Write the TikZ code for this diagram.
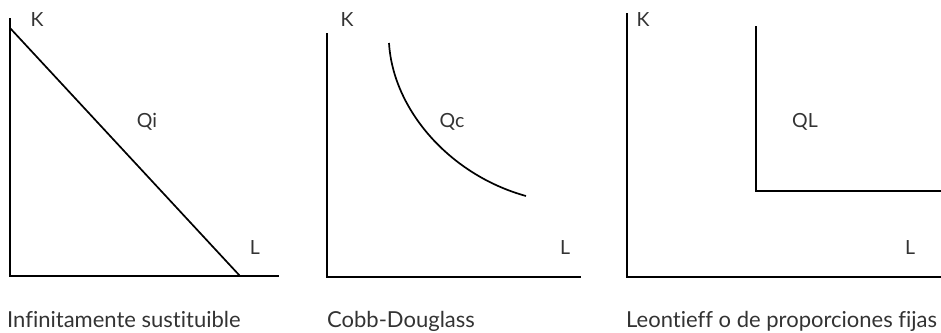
\documentclass[tikz,border=0pt]{standalone}
\usepackage{fontspec}
\setmainfont{Lato}[Ligatures={NoCommon,NoRare,NoDiscretionary}]
\definecolor{txt}{HTML}{333333}
\begin{document}
\begin{tikzpicture}[x=1pt,y=-1pt,
  axis/.style={line width=1.9pt,black},
  curve/.style={line width=1.7pt,black},
  lbl/.style={text=txt,font=\fontsize{19.5}{21}\selectfont,inner sep=0pt},
  captxt/.style={text=txt,font=\fontsize{22}{24}\selectfont,inner sep=0pt,anchor=base west}]
\useasboundingbox (0,0) rectangle (941,332);
% panel 1
\coordinate (o1) at (10,276);
\coordinate (y1) at (10,18);
\coordinate (x1) at (279,276);
\draw[axis] (y1) -- (o1) -- (x1);
\coordinate (a1) at (10,28);
\coordinate (b1) at (240,276);
\draw[curve] (a1) -- (b1);
\node[lbl] (k1) at (37,20) {K};
\node[lbl] (q1) at (147,122) {Qi};
\node[lbl] (l1) at (255,248) {L};
\node[captxt] (c1) at (7,327) {Infinitamente sustituible};
% panel 2
\coordinate (o2) at (327,277);
\coordinate (y2) at (327,33);
\coordinate (x2) at (581,277);
\draw[axis] (y2) -- (o2) -- (x2);
\coordinate (a2) at (389,43);
\coordinate (b2) at (526,196);
\draw[curve] (a2) .. controls (393,110) and (450,175) .. (b2);
\node[lbl] (k2) at (347,20) {K};
\node[lbl] (q2) at (452,122) {Qc};
\node[lbl] (l2) at (565,248) {L};
\node[captxt] (c2) at (327,327) {Cobb-Douglass};
% panel 3
\coordinate (o3) at (627,277);
\coordinate (y3) at (627,13);
\coordinate (x3) at (941,277);
\draw[axis] (y3) -- (o3) -- (x3);
\coordinate (a3) at (756,26);
\coordinate (m3) at (756,191);
\coordinate (b3) at (941,191);
\draw[curve] (a3) -- (m3) -- (b3);
\node[lbl] (k3) at (643,20) {K};
\node[lbl] (q3) at (805,122) {QL};
\node[lbl] (l3) at (910,248) {L};
\node[captxt] (c3) at (626,327) {Leontieff o de proporciones fijas};
\end{tikzpicture}
\end{document}
